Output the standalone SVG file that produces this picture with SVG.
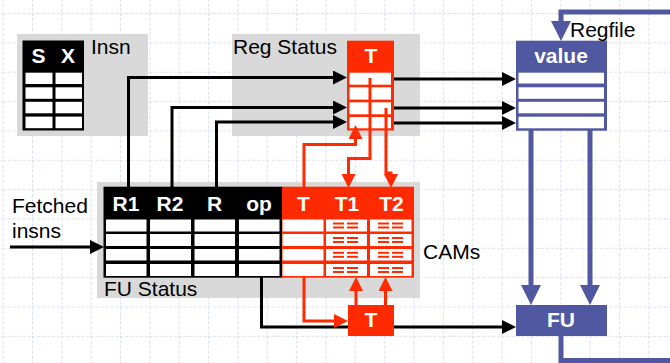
<svg xmlns="http://www.w3.org/2000/svg" width="670" height="363" viewBox="0 0 670 363">
<style>
.lbl{font-family:"Liberation Sans",Arial,sans-serif;font-size:21px;fill:#000}
.hd{font-family:"Liberation Sans",Arial,sans-serif;font-size:21px;font-weight:bold;fill:#fff;text-anchor:middle}
.gray{fill:#d9d9d9}
.cell{fill:#fff}
.bk{fill:none;stroke:#000;stroke-width:3}
.rd{fill:none;stroke:#ff2a00;stroke-width:3}
.bl{fill:none;stroke:#4f58a0;stroke-width:5}
.cam{fill:#ff2a00}
</style>
<defs>
<pattern id="grid" patternUnits="userSpaceOnUse" x="2.65" y="13" width="29.35" height="29.35">
<path d="M0.5,0 V29.35 M0,0.5 H29.35" fill="none" stroke="#d9ddf2" stroke-width="1" stroke-dasharray="3 2"/>
</pattern>
<marker id="ak" viewBox="0 0 14 14" refX="3" refY="7" markerWidth="14" markerHeight="14" markerUnits="userSpaceOnUse" orient="auto"><path d="M0,0 L14,7 L0,14 Z" fill="#000"/></marker>
<marker id="ar" viewBox="0 0 14 14" refX="3" refY="7" markerWidth="14" markerHeight="14" markerUnits="userSpaceOnUse" orient="auto"><path d="M0,0 L14,7 L0,14 Z" fill="#ff2a00"/></marker>
<marker id="ab" viewBox="0 0 20 20" refX="3" refY="10" markerWidth="20" markerHeight="20" markerUnits="userSpaceOnUse" orient="auto"><path d="M0,0 L20,10 L0,20 Z" fill="#4f58a0"/></marker>
</defs>
<rect width="670" height="363" fill="#fff"/>
<rect width="670" height="363" fill="url(#grid)"/>

<g id="insn">
<rect class="gray" x="17" y="34" width="131" height="102"/>
<rect x="22.5" y="40.5" width="61.5" height="90" fill="#000"/>
<rect class="cell" x="25.5" y="72.7" width="27" height="11.3"/>
<rect class="cell" x="55.5" y="72.7" width="26.5" height="11.3"/>
<rect class="cell" x="25.5" y="87.3" width="27" height="11.5"/>
<rect class="cell" x="55.5" y="87.3" width="26.5" height="11.5"/>
<rect class="cell" x="25.5" y="101.8" width="27" height="11.5"/>
<rect class="cell" x="55.5" y="101.8" width="26.5" height="11.5"/>
<rect class="cell" x="25.5" y="116.6" width="27" height="11.6"/>
<rect class="cell" x="55.5" y="116.6" width="26.5" height="11.6"/>
<text class="hd" x="38.5" y="63">S</text>
<text class="hd" x="68" y="63">X</text>
<text class="lbl" x="91" y="54">Insn</text>
</g>

<g id="reg-status">
<rect class="gray" x="232" y="34" width="188" height="102"/>
<text class="lbl" x="233" y="54">Reg Status</text>
<rect x="347" y="40.7" width="47" height="89.8" fill="#ff2a00"/>
<rect class="cell" x="349.5" y="72.7" width="41.5" height="12"/>
<rect class="cell" x="349.5" y="87.3" width="41.5" height="12.3"/>
<rect class="cell" x="349.5" y="102.3" width="41.5" height="12"/>
<rect class="cell" x="349.5" y="117" width="41.5" height="11.3"/>
<text class="hd" x="371" y="63">T</text>
</g>

<g id="regfile">
<rect x="516" y="40.7" width="91" height="90" fill="#4f58a0"/>
<rect class="cell" x="518.5" y="72.7" width="85.5" height="10.8"/>
<rect class="cell" x="518.5" y="87.3" width="85.5" height="11.5"/>
<rect class="cell" x="518.5" y="101.8" width="85.5" height="11.5"/>
<rect class="cell" x="518.5" y="116.7" width="85.5" height="11.6"/>
<text class="hd" x="561" y="63">value</text>
<text class="lbl" x="570" y="37">Regfile</text>
</g>

<g id="fu-status">
<rect class="gray" x="97" y="182" width="323" height="116"/>
<rect x="103.5" y="186.7" width="179" height="91" fill="#000"/>
<rect x="282" y="186.7" width="132" height="91" fill="#ff2a00"/>
<g class="cell">
<rect x="106" y="219.5" width="40.5" height="12"/><rect x="150" y="219.5" width="41" height="12"/><rect x="194.5" y="219.5" width="40.5" height="12"/><rect x="239" y="219.5" width="40.5" height="12"/>
<rect x="106" y="234" width="40.5" height="12"/><rect x="150" y="234" width="41" height="12"/><rect x="194.5" y="234" width="40.5" height="12"/><rect x="239" y="234" width="40.5" height="12"/>
<rect x="106" y="249" width="40.5" height="11.5"/><rect x="150" y="249" width="41" height="11.5"/><rect x="194.5" y="249" width="40.5" height="11.5"/><rect x="239" y="249" width="40.5" height="11.5"/>
<rect x="106" y="264" width="40.5" height="12"/><rect x="150" y="264" width="41" height="12"/><rect x="194.5" y="264" width="40.5" height="12"/><rect x="239" y="264" width="40.5" height="12"/>
<rect x="282.5" y="219.5" width="41" height="12"/><rect x="326" y="219.5" width="41" height="12"/><rect x="370" y="219.5" width="41.5" height="12"/>
<rect x="282.5" y="234" width="41" height="12"/><rect x="326" y="234" width="41" height="12"/><rect x="370" y="234" width="41.5" height="12"/>
<rect x="282.5" y="249" width="41" height="11.5"/><rect x="326" y="249" width="41" height="11.5"/><rect x="370" y="249" width="41.5" height="11.5"/>
<rect x="282.5" y="264" width="41" height="12"/><rect x="326" y="264" width="41" height="12"/><rect x="370" y="264" width="41.5" height="12"/>
</g>
<g class="cam">
<rect x="333" y="222.5" width="11" height="2"/><rect x="347" y="222.5" width="11" height="2"/><rect x="333" y="226.5" width="11" height="2"/><rect x="347" y="226.5" width="11" height="2"/>
<rect x="378" y="222.5" width="11" height="2"/><rect x="392" y="222.5" width="11" height="2"/><rect x="378" y="226.5" width="11" height="2"/><rect x="392" y="226.5" width="11" height="2"/>
<rect x="333" y="237" width="11" height="2"/><rect x="347" y="237" width="11" height="2"/><rect x="333" y="241" width="11" height="2"/><rect x="347" y="241" width="11" height="2"/>
<rect x="378" y="237" width="11" height="2"/><rect x="392" y="237" width="11" height="2"/><rect x="378" y="241" width="11" height="2"/><rect x="392" y="241" width="11" height="2"/>
<rect x="333" y="251.8" width="11" height="2"/><rect x="347" y="251.8" width="11" height="2"/><rect x="333" y="255.8" width="11" height="2"/><rect x="347" y="255.8" width="11" height="2"/>
<rect x="378" y="251.8" width="11" height="2"/><rect x="392" y="251.8" width="11" height="2"/><rect x="378" y="255.8" width="11" height="2"/><rect x="392" y="255.8" width="11" height="2"/>
<rect x="333" y="267" width="11" height="2"/><rect x="347" y="267" width="11" height="2"/><rect x="333" y="271" width="11" height="2"/><rect x="347" y="271" width="11" height="2"/>
<rect x="378" y="267" width="11" height="2"/><rect x="392" y="267" width="11" height="2"/><rect x="378" y="271" width="11" height="2"/><rect x="392" y="271" width="11" height="2"/>
</g>
<text class="hd" x="126" y="211">R1</text>
<text class="hd" x="170" y="211">R2</text>
<text class="hd" x="214.5" y="211">R</text>
<text class="hd" x="259" y="211">op</text>
<text class="hd" x="303.5" y="211">T</text>
<text class="hd" x="347" y="211">T1</text>
<text class="hd" x="391.5" y="211">T2</text>
<text class="lbl" x="104" y="296">FU Status</text>
<text class="lbl" x="423" y="259">CAMs</text>
</g>

<g id="fetched">
<text class="lbl" x="12" y="213">Fetched</text>
<text class="lbl" x="12" y="238">insns</text>
</g>

<g id="connectors">
<path class="bk" d="M128.5,187 V77.5 H336" marker-end="url(#ak)"/>
<path class="bk" d="M172,187 V107.5 H336" marker-end="url(#ak)"/>
<path class="bk" d="M216.5,187 V122 H336" marker-end="url(#ak)"/>
<path class="bk" d="M394,79 H505" marker-end="url(#ak)"/>
<path class="bk" d="M394,108 H505" marker-end="url(#ak)"/>
<path class="bk" d="M394,123 H505" marker-end="url(#ak)"/>
<path class="bk" d="M10,247 H93" marker-end="url(#ak)"/>
<path class="bk" d="M261.5,277 V327 H349"/>
<path class="bk" d="M393,327 H505" marker-end="url(#ak)"/>
<path class="rd" d="M304,187 V144.5 H355.5 V136" marker-end="url(#ar)"/>
<path class="rd" d="M370,78 V158.5 H348.5 V177" marker-end="url(#ar)"/>
<path class="rd" d="M386,108 V173 H391 V177" marker-end="url(#ar)"/>
<path class="rd" d="M304,277 V321 H337" marker-end="url(#ar)"/>
<path class="rd" d="M356,305 V288" marker-end="url(#ar)"/>
<path class="rd" d="M385.5,305 V288" marker-end="url(#ar)"/>
<path class="bl" d="M531,130 V288" marker-end="url(#ab)"/>
<path class="bl" d="M590,130 V288" marker-end="url(#ab)"/>
<path class="bl" d="M561,336 V360.5 H674 V12 H561 V24" marker-end="url(#ab)"/>
</g>

<g id="t-box">
<rect x="348" y="305" width="46" height="31" fill="#ff2a00"/>
<text class="hd" x="371" y="327">T</text>
</g>

<g id="fu">
<rect x="516" y="305" width="91" height="31" fill="#4f58a0"/>
<text class="hd" x="561" y="327">FU</text>
</g>
</svg>
